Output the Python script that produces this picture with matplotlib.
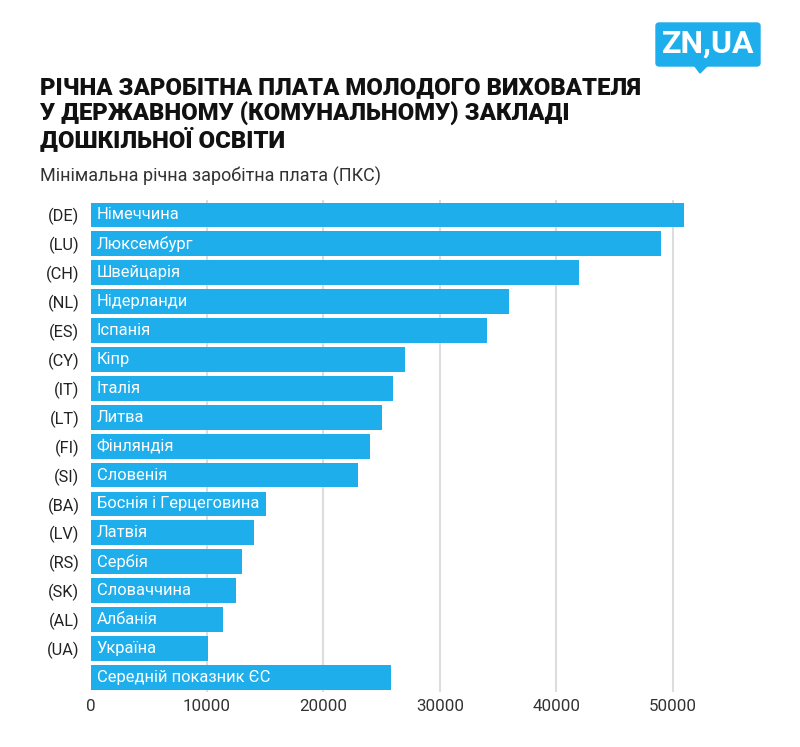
import matplotlib.pyplot as plt
from matplotlib.patches import FancyBboxPatch, Polygon

codes = ['(DE)', '(LU)', '(CH)', '(NL)', '(ES)', '(CY)', '(IT)', '(LT)', '(FI)',
         '(SI)', '(BA)', '(LV)', '(RS)', '(SK)', '(AL)', '(UA)', '']
names = ['Німеччина', 'Люксембург', 'Швейцарія', 'Нідерланди', 'Іспанія', 'Кіпр',
         'Італія', 'Литва', 'Фінляндія', 'Словенія', 'Боснія і Герцеговина',
         'Латвія', 'Сербія', 'Словаччина', 'Албанія', 'Україна',
         'Середній показник ЄС']
salary = [50940, 48940, 41960, 35950, 34010, 27020, 25970, 25000, 24020,
          22960, 15040, 14010, 13000, 12490, 11370, 10060, 25790]
ticks = [0, 10000, 20000, 30000, 40000, 50000]

blue = '#1eaeec'
plt.rcParams['font.family'] = ['Roboto', 'DejaVu Sans']

fig = plt.figure(figsize=(8, 7.47), dpi=100)
ax = fig.add_axes([90.5 / 800, 0.0739, 629 / 800, 0.6577])

rows = range(len(salary))
ax.barh(rows, salary, height=0.86, color=blue, zorder=2)
for i, n in enumerate(names):
    ax.annotate(n, (0, i), xytext=(4.5, 0), textcoords='offset points',
                va='center', ha='left', color='white', fontsize=11.9)
ax.set_ylim(len(salary) - 0.5, -0.5)
ax.set_xlim(0, 54000)
ax.set_yticks(list(rows))
ax.set_yticklabels(codes, fontsize=11.8, color='#222222')
ax.set_xticks(ticks)
ax.set_xticklabels([str(t) for t in ticks], fontsize=12.2, color='#333333')
ax.tick_params(length=0)
ax.tick_params(axis='x', pad=5)
ax.tick_params(axis='y', pad=8)
for s in ax.spines.values():
    s.set_visible(False)
for t in ticks[1:]:
    ax.axvline(t, color='#dddddd', lw=1.5, zorder=1)

fig.text(40 / 800, 1 - 76 / 747, 'РІЧНА ЗАРОБІТНА ПЛАТА МОЛОДОГО ВИХОВАТЕЛЯ\n'
         'У ДЕРЖАВНОМУ (КОМУНАЛЬНОМУ) ЗАКЛАДІ\nДОШКІЛЬНОЇ ОСВІТИ',
         fontsize=17.2, fontweight='heavy', color='#111111', va='top',
         linespacing=1.12)
fig.text(40 / 800, 1 - 176 / 747, 'Мінімальна річна заробітна плата (ПКС)',
         fontsize=13, color='#333333', va='center')

# logo
fig.patches.append(FancyBboxPatch((656 / 800, 1 - 66 / 747), 104 / 800, 43 / 747,
                                  boxstyle='round,pad=0,rounding_size=0.004',
                                  transform=fig.transFigure, color=blue))
fig.patches.append(Polygon([(694 / 800, 1 - 65 / 747), (708 / 800, 1 - 65 / 747),
                            (700 / 800, 1 - 73 / 747)], closed=True,
                           transform=fig.transFigure, color=blue))
fig.text(708 / 800, 1 - 44 / 747, 'ZN,UA', fontsize=23, fontweight='bold',
         color='white', ha='center', va='center')

fig.savefig('out.png', dpi=100)
